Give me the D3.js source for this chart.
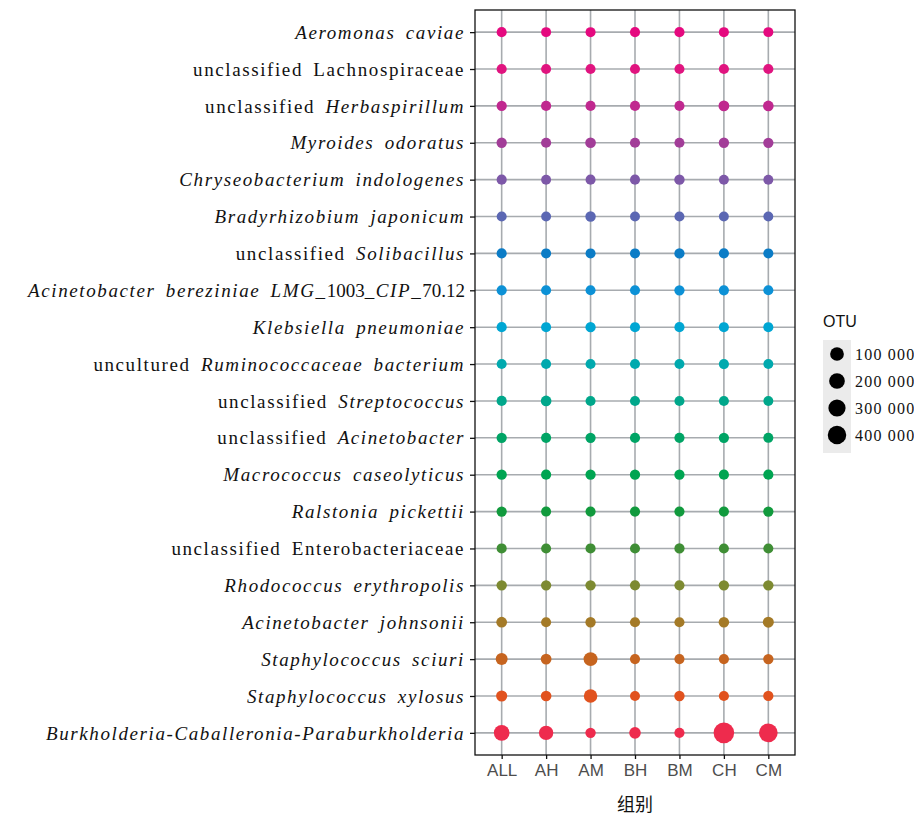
<!DOCTYPE html>
<html>
<head>
<meta charset="utf-8">
<script src="https://cdn.jsdelivr.net/npm/d3@7"></script>
<style>
  body { margin: 0; background: #fff; }
  svg { display: block; }
</style>
</head>
<body>
<script>
// groups on the x axis
var groups = ["ALL", "AH", "AM", "BH", "BM", "CH", "CM"];

// taxa, top to bottom; text between * is italic
var taxa = [
    "*Aeromonas caviae*",
    "unclassified Lachnospiraceae",
    "unclassified *Herbaspirillum*",
    "*Myroides odoratus*",
    "*Chryseobacterium indologenes*",
    "*Bradyrhizobium japonicum*",
    "unclassified *Solibacillus*",
    "*Acinetobacter bereziniae LMG_*1003*_CIP_*70.12",
    "*Klebsiella pneumoniae*",
    "uncultured *Ruminococcaceae bacterium*",
    "unclassified *Streptococcus*",
    "unclassified *Acinetobacter*",
    "*Macrococcus caseolyticus*",
    "*Ralstonia pickettii*",
    "unclassified Enterobacteriaceae",
    "*Rhodococcus erythropolis*",
    "*Acinetobacter johnsonii*",
    "*Staphylococcus sciuri*",
    "*Staphylococcus xylosus*",
    "*Burkholderia-Caballeronia-Paraburkholderia*"
];

// OTU counts per taxon, in the order of groups
var otu = [
    [5000, 4000, 4500, 5000, 6000, 4500, 4000],
    [6000, 5000, 5000, 5000, 5000, 6000, 6000],
    [7000, 6000, 6000, 6000, 5000, 14000, 12000],
    [8000, 6000, 12000, 6000, 5000, 8000, 7000],
    [6000, 4000, 5000, 5000, 9000, 4000, 4000],
    [5000, 4000, 9000, 4000, 5000, 4000, 4000],
    [6000, 5000, 5000, 5000, 7000, 6000, 5000],
    [6000, 5000, 5000, 5000, 7000, 6000, 5000],
    [6000, 5000, 7000, 5000, 6000, 5000, 5000],
    [5000, 5000, 5000, 5000, 4000, 6000, 4000],
    [6000, 12000, 5000, 5000, 5000, 5000, 4000],
    [7000, 6000, 7000, 6000, 6000, 7000, 5000],
    [8000, 6000, 7000, 7000, 7000, 6000, 6000],
    [7000, 5000, 6000, 6000, 6000, 6000, 7000],
    [6000, 5000, 6000, 5000, 7000, 5000, 5000],
    [9000, 7000, 9000, 6000, 6000, 9000, 9000],
    [14000, 5000, 8000, 6000, 6000, 10000, 18000],
    [40000, 14000, 110000, 6000, 6000, 6000, 8000],
    [20000, 12000, 90000, 4000, 8000, 6000, 7000],
    [200000, 130000, 9000, 30000, 6000, 600000, 420000]
];

var legendBreaks = [100000, 200000, 300000, 400000];
var legendLabels = ["100 000", "200 000", "300 000", "400 000"];

var taxonColors = [
    "#E5097F", "#E0147F", "#C0288F", "#A23D98", "#7D58A8",
    "#5B67B3", "#0B7CC6", "#0C91D6", "#00A6D3", "#00A9AE",
    "#00A78B", "#00A465", "#00A552", "#119A3D", "#3F8E35",
    "#7D8A31", "#A47A27", "#C6641F", "#E1521E", "#EE2B4D"
];

var W = 914, H = 815;
var panel = {left: 475, right: 795, top: 10, bottom: 755};

var svg = d3.select("body").append("svg")
    .attr("width", W)
    .attr("height", H);

var x = d3.scalePoint()
    .domain(groups)
    .range([panel.left, panel.right])
    .padding(0.6);

var y = d3.scalePoint()
    .domain(d3.range(taxa.length))
    .range([panel.top, panel.bottom])
    .padding(0.6);

var r = d3.scaleSqrt()
    .domain([0, 600000])
    .range([4.5, 10.3]);

// grid
var grid = svg.append("g");
grid.selectAll("line.v").data(groups).enter().append("line")
    .attr("x1", function (d) { return x(d); })
    .attr("x2", function (d) { return x(d); })
    .attr("y1", panel.top).attr("y2", panel.bottom)
    .attr("stroke", "#A7ABAF").attr("stroke-width", 1.6);
grid.selectAll("line.h").data(taxa).enter().append("line")
    .attr("y1", function (d, i) { return y(i); })
    .attr("y2", function (d, i) { return y(i); })
    .attr("x1", panel.left).attr("x2", panel.right)
    .attr("stroke", "#A7ABAF").attr("stroke-width", 1.6);

// points
var cells = [];
otu.forEach(function (row, i) {
    row.forEach(function (v, j) {
        cells.push({row: i, group: groups[j], value: v});
    });
});
svg.append("g").selectAll("circle").data(cells).enter().append("circle")
    .attr("cx", function (d) { return x(d.group); })
    .attr("cy", function (d) { return y(d.row); })
    .attr("r", function (d) { return r(d.value); })
    .attr("fill", function (d) { return taxonColors[d.row]; });

// panel border
svg.append("rect")
    .attr("x", panel.left).attr("y", panel.top)
    .attr("width", panel.right - panel.left)
    .attr("height", panel.bottom - panel.top)
    .attr("fill", "none").attr("stroke", "#111").attr("stroke-width", 1.3);

// y axis
var yAxis = svg.append("g")
    .attr("transform", "translate(" + panel.left + ",0)")
    .call(d3.axisLeft(y).tickSize(5).tickSizeOuter(0).tickFormat(""));
yAxis.select(".domain").remove();
yAxis.selectAll(".tick line").attr("stroke", "#111").attr("stroke-width", 1.3);

var yLabels = svg.append("g");
taxa.forEach(function (label, i) {
    var t = yLabels.append("text")
        .attr("x", 465)
        .attr("y", y(i))
        .attr("dy", "0.35em")
        .attr("text-anchor", "end")
        .style("font-family", "'Liberation Serif', 'Times New Roman', serif")
        .style("font-size", "19px")
        .style("letter-spacing", "1.6px")
        .style("word-spacing", "4px")
        .attr("fill", "#111");
    label.split("*").forEach(function (part, k) {
        if (!part) return;
        var italic = k % 2 === 1;
        var numeric = /^[0-9.]+$/.test(part);
        t.append("tspan")
            .style("font-style", italic ? "italic" : "normal")
            .style("letter-spacing", numeric ? "0px" : null)
            .text(part);
    });
});

// x axis
var xAxis = svg.append("g")
    .attr("transform", "translate(0," + panel.bottom + ")")
    .call(d3.axisBottom(x).tickSize(4).tickSizeOuter(0));
xAxis.select(".domain").remove();
xAxis.selectAll(".tick line").attr("stroke", "#111").attr("stroke-width", 1.3);
xAxis.selectAll(".tick text")
    .attr("y", 21).attr("dy", 0)
    .style("font-family", "'Liberation Sans', Arial, sans-serif")
    .style("font-size", "17px")
    .attr("fill", "#4D4D4D");

svg.append("text")
    .attr("x", x("BH")).attr("y", 811)
    .attr("text-anchor", "middle")
    .style("font-family", "'Noto Sans CJK SC', sans-serif")
    .style("font-size", "18px")
    .attr("fill", "#111")
    .text("组别");

// size legend
var legend = svg.append("g");
legend.append("text")
    .attr("x", 823).attr("y", 327)
    .style("font-family", "'Liberation Sans', Arial, sans-serif")
    .style("font-size", "16px")
    .attr("fill", "#111")
    .text("OTU");
legend.append("rect")
    .attr("x", 823).attr("y", 340)
    .attr("width", 28).attr("height", 113)
    .attr("fill", "#EBEBEB");
legendBreaks.forEach(function (v, i) {
    var cy = 354 + i * 27;
    legend.append("circle")
        .attr("cx", 837).attr("cy", cy)
        .attr("r", r(v))
        .attr("fill", "#000");
    legend.append("text")
        .attr("x", 855).attr("y", cy).attr("dy", "0.35em")
        .style("font-family", "'Liberation Serif', 'Times New Roman', serif")
        .style("font-size", "16px")
        .style("letter-spacing", "1.2px")
        .attr("fill", "#111")
        .text(legendLabels[i]);
});
</script>
</body>
</html>
